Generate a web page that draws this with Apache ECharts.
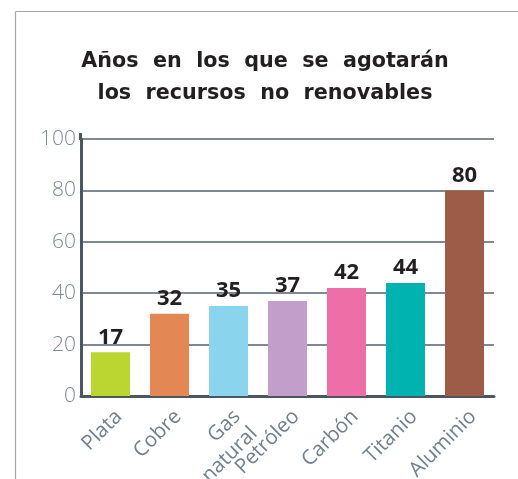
<!DOCTYPE html>
<html>
<head>
<meta charset="utf-8">
<script src="https://cdn.jsdelivr.net/npm/echarts@6/dist/echarts.min.js"></script>
<style>
  html, body { margin: 0; padding: 0; background: #fff; }
  #chart { width: 518px; height: 479px; }
</style>
</head>
<body>
<div id="chart"></div>
<script>
// Resources and the years until each one runs out
const categories = ['Plata', 'Cobre', 'Gas\nnatural', 'Petróleo', 'Carbón', 'Titanio', 'Aluminio'];
const years = [17, 32, 35, 37, 42, 44, 80];
const barColors = ['#bcd631', '#e38755', '#8ad4ee', '#c29fca', '#ee6fa8', '#00b2b0', '#9c5c48'];
const yTicks = [0, 20, 40, 60, 80, 100];

const chart = echarts.init(document.getElementById('chart'), null, { renderer: 'canvas' });

chart.setOption({
  backgroundColor: '#ffffff',
  animation: false,
  title: {
    text: 'Años  en  los  que  se  agotarán\nlos  recursos  no  renovables',
    left: 260,
    top: 41,
    textAlign: 'center',
    textStyle: {
      fontFamily: 'DejaVu Sans',
      fontSize: 20.7,
      fontWeight: 'bold',
      color: '#231f20',
      lineHeight: 32
    }
  },
  graphic: [
    // thin frame along the left and top edges
    { type: 'line', shape: { x1: 15.5, y1: 11.5, x2: 518, y2: 11.5 }, style: { stroke: '#a6a6a6', lineWidth: 1.2 } },
    { type: 'line', shape: { x1: 15.5, y1: 11.5, x2: 15.5, y2: 479 }, style: { stroke: '#a6a6a6', lineWidth: 1.2 } },
    // the value axis runs slightly past its top tick
    { type: 'line', shape: { x1: 80.5, y1: 133, x2: 80.5, y2: 140 }, style: { stroke: '#4b5661', lineWidth: 3 } }
  ],
  grid: { left: 81, right: 24, top: 139, bottom: 83, containLabel: false, outerBoundsMode: 'none' },
  xAxis: {
    type: 'category',
    data: categories,
    axisLine: { show: true, lineStyle: { color: '#4b5661', width: 3 } },
    axisTick: { show: false },
    axisLabel: {
      interval: 0,
      rotate: 45,
      margin: 9,
      verticalAlign: 'top',
      fontFamily: 'Open Sans',
      fontSize: 20.5,
      lineHeight: 24,
      color: '#71808c'
    }
  },
  yAxis: {
    type: 'value',
    min: yTicks[0],
    max: yTicks[yTicks.length - 1],
    interval: 20,
    axisLine: { show: true, lineStyle: { color: '#4b5661', width: 3 } },
    axisTick: { show: false },
    splitLine: { show: true, lineStyle: { color: '#56616b', width: 1.5 } },
    axisLabel: {
      margin: 5,
      fontFamily: 'Open Sans',
      fontSize: 21,
      fontWeight: 300,
      color: '#7d8b96'
    }
  },
  series: [{
    type: 'bar',
    barWidth: 39,
    data: years.map((v, i) => ({ value: v, itemStyle: { color: barColors[i] } })),
    label: {
      show: true,
      position: 'top',
      distance: 4,
      fontFamily: 'Open Sans',
      fontSize: 22,
      fontWeight: 'bold',
      color: '#231f20'
    }
  }]
});
</script>
</body>
</html>
